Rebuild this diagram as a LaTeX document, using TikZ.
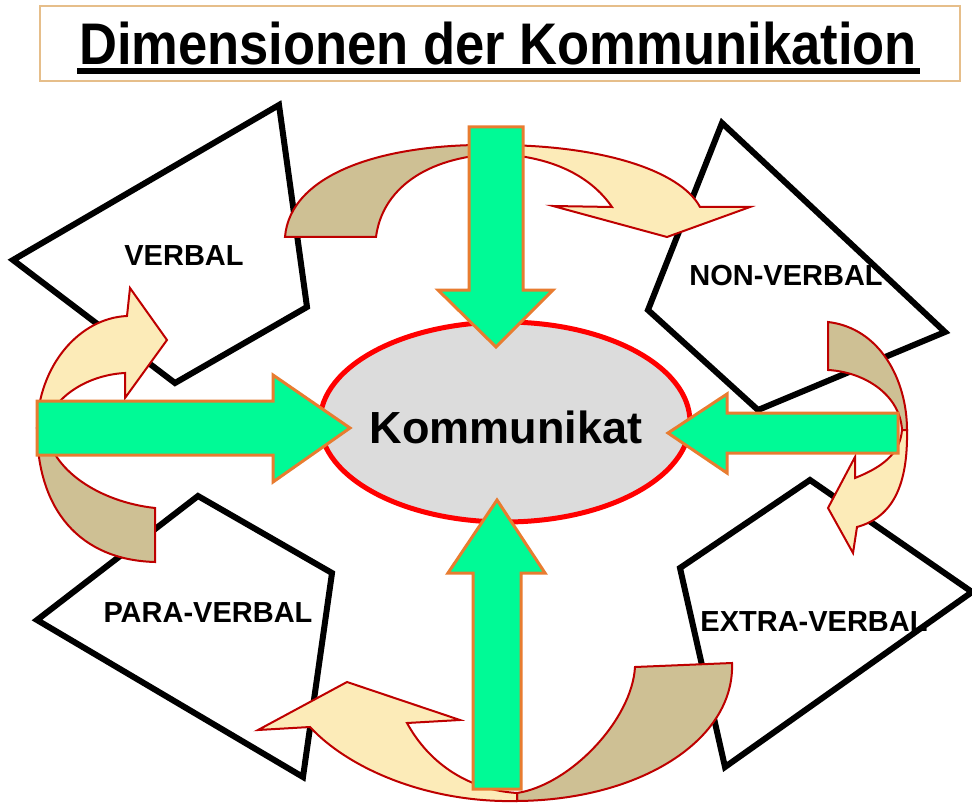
\documentclass[tikz,border=0pt]{standalone}
\usepackage{fontspec}
\setmainfont{Liberation Sans}
\usetikzlibrary{shapes.geometric}
\definecolor{mint}{HTML}{00FA96}
\definecolor{orangeedge}{HTML}{E87C30}
\definecolor{tanback}{HTML}{CEC094}
\definecolor{lightfront}{HTML}{FCEBB8}
\definecolor{darkred}{HTML}{BE0000}
\definecolor{titleedge}{HTML}{E6BE8A}
\definecolor{ovalfill}{HTML}{DCDCDC}
\tikzset{
  plate/.style={draw=black, fill=white, line width=6pt, line join=miter},
  lbl/.style={font=\fontsize{29}{30}\selectfont\bfseries, inner sep=0pt},
  greenarrow/.style={draw=orangeedge, fill=mint, line width=3pt, line join=miter},
  backpart/.style={draw=darkred, fill=tanback, line width=2pt, line join=miter},
  frontpart/.style={draw=darkred, fill=lightfront, line width=2pt, line join=miter}
}
\begin{document}
\begin{tikzpicture}[x=1pt,y=-1pt]
\useasboundingbox (0,0) rectangle (972,805);
\fill[white] (0,0) rectangle (972,805);

% title
\draw[titleedge, line width=1.5pt, fill=white] (40,6) rectangle (960,81);
\node[anchor=base, inner sep=0pt] (title) at (498,65)
  {\scalebox{0.895}[1]{\fontsize{58.7}{60}\selectfont\bfseries Dimensionen der Kommunikation}};
\coordinate (ulA) at (77,71);
\coordinate (ulB) at (920,71);
\draw[line width=6pt] (ulA) -- (ulB);

% plates
\draw[plate] (13,260) -- (279,105) -- (307,307) -- (175,383) -- cycle;
\draw[plate] (722,123) -- (945,332) -- (758,410) -- (648,310) -- cycle;
\draw[plate] (680,568) -- (810,480) -- (972,592) -- (725,767) -- cycle;
\draw[plate] (37,620) -- (198,496) -- (332,573) -- (303,777) -- cycle;

\node[lbl] (verbal) at (184,256) {VERBAL};
\node[lbl] (nonverbal) at (786,276) {NON-VERBAL};
\node[lbl] (paraverbal) at (208,613) {PARA-VERBAL};
\node[lbl] (extraverbal) at (814,622) {EXTRA-VERBAL};

% top curved arrow
\draw[backpart] (285,237) -- (376,237) .. controls (382,190) and (425,157) .. (496,154)
  -- (496,145) .. controls (380,143) and (290,175) .. (285,237) -- cycle;
\draw[frontpart] (496,145) .. controls (600,145) and (680,170) .. (700,207)
  -- (750,207) -- (667,237) -- (553,206) -- (612,207)
  .. controls (590,175) and (550,156) .. (496,154) -- cycle;

% left curved arrow
\draw[backpart] (37,428) .. controls (37,510) and (80,560) .. (155,562) -- (155,508)
  .. controls (100,502) and (50,470) .. (46,428) -- cycle;
\draw[frontpart] (37,428) .. controls (38,365) and (80,318) .. (127,316)
  -- (130,288) -- (167,340) -- (125,398) -- (125,373)
  .. controls (85,375) and (50,400) .. (46,428) -- cycle;

% right curved arrow
\draw[backpart] (828,322) .. controls (880,328) and (907,380) .. (907,430) -- (902,430)
  .. controls (900,395) and (865,372) .. (828,370) -- cycle;
\draw[frontpart] (907,430) .. controls (908,485) and (893,517) .. (857,527)
  -- (853,553) -- (828,508) -- (855,457) -- (855,478)
  .. controls (880,468) and (900,455) .. (902,430) -- cycle;

% bottom curved arrow
\draw[backpart] (635,667) -- (732,663) .. controls (735,740) and (640,800) .. (517,801)
  -- (517,793) .. controls (570,785) and (632,720) .. (635,667) -- cycle;
\draw[frontpart] (517,801) .. controls (430,803) and (350,770) .. (310,727)
  -- (258,730) -- (347,682) -- (460,720) -- (407,723)
  .. controls (430,765) and (470,790) .. (517,793) -- cycle;

% centre
\node[ellipse, draw=red, fill=ovalfill, line width=5pt, minimum width=370pt,
  minimum height=200pt, inner sep=0pt] (oval) at (505,422) {};
\node[anchor=base, inner sep=0pt, font=\fontsize{45}{46}\selectfont\bfseries] (komm) at (506,443) {Kommunikat};

% green arrows
\draw[greenarrow] (469,127) -- (523,127) -- (523,290) -- (553,290) -- (496,347)
  -- (438,290) -- (469,290) -- cycle;
\draw[greenarrow] (473,789) -- (521,789) -- (521,573) -- (545,573) -- (497,500)
  -- (448,573) -- (473,573) -- cycle;
\draw[greenarrow] (37,401) -- (273,401) -- (273,375) -- (350,428) -- (273,482)
  -- (273,455) -- (37,455) -- cycle;
\draw[greenarrow] (898,413) -- (727,413) -- (727,394) -- (668,433) -- (727,473)
  -- (727,453) -- (898,453) -- cycle;
\end{tikzpicture}
\end{document}
